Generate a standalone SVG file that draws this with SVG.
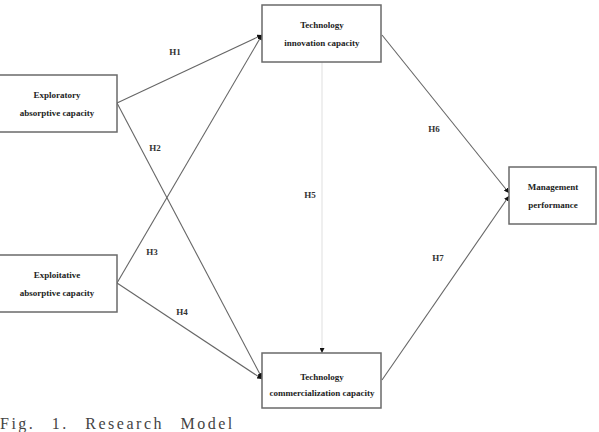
<svg xmlns="http://www.w3.org/2000/svg" width="599" height="432" viewBox="0 0 599 432">
<defs>
<style>
.box{fill:#fff;stroke:#6a6a6a;stroke-width:1.5}
.t{font-family:"Liberation Serif","Times New Roman",serif;font-weight:bold;font-size:9px;fill:#222;text-anchor:middle}
.lbl{font-family:"Liberation Serif","Times New Roman",serif;font-weight:bold;font-size:9px;fill:#333;text-anchor:middle}
.c{stroke:#666;stroke-width:1.1;fill:none;marker-end:url(#ah)}
.cap{font-family:"Liberation Serif","Times New Roman",serif;font-size:16px;letter-spacing:2.5px;word-spacing:10px;fill:#444}
</style>
<marker id="ah" viewBox="0 0 10 10" refX="10" refY="5" markerWidth="5" markerHeight="5" markerUnits="userSpaceOnUse" orient="auto">
<path d="M0,0 L10,5 L0,10 z" fill="#111"/>
</marker>
</defs>
<rect width="599" height="432" fill="#fff"/>
<g id="connectors">
<line class="c" x1="117" y1="103" x2="262" y2="35"/>
<line class="c" x1="117" y1="103" x2="262" y2="378"/>
<line class="c" x1="117" y1="283" x2="262" y2="35"/>
<line class="c" x1="117" y1="283" x2="262" y2="379"/>
<line class="c" x1="322" y1="62" x2="322" y2="353" style="stroke:#e2e2e2"/>
<line class="c" x1="382" y1="35" x2="509" y2="193"/>
<line class="c" x1="382" y1="380" x2="509" y2="196"/>
<text class="lbl" x="175" y="55">H1</text>
<text class="lbl" x="155" y="151">H2</text>
<text class="lbl" x="152" y="255">H3</text>
<text class="lbl" x="182" y="315">H4</text>
<text class="lbl" x="310" y="198">H5</text>
<text class="lbl" x="434" y="132">H6</text>
<text class="lbl" x="438" y="261">H7</text>
</g>
<g id="exploratory">
<rect class="box" x="-2" y="75" width="119" height="57"/>
<text class="t" x="57" y="98">Exploratory</text>
<text class="t" x="57" y="116">absorptive capacity</text>
</g>
<g id="exploitative">
<rect class="box" x="-2" y="255" width="119" height="57"/>
<text class="t" x="57" y="278">Exploitative</text>
<text class="t" x="57" y="296">absorptive capacity</text>
</g>
<g id="innovation">
<rect class="box" x="262" y="5" width="119" height="57"/>
<text class="t" x="322" y="28">Technology</text>
<text class="t" x="322" y="46">innovation capacity</text>
</g>
<g id="commercialization">
<rect class="box" x="262" y="353" width="119" height="55"/>
<text class="t" x="322" y="380">Technology</text>
<text class="t" x="322" y="396">commercialization capacity</text>
</g>
<g id="management">
<rect class="box" x="509" y="167" width="87" height="57"/>
<text class="t" x="553" y="190">Management</text>
<text class="t" x="553" y="208">performance</text>
</g>
<g id="caption">
<text class="cap" x="0" y="429">Fig. 1. Research Model</text>
</g>
</svg>
